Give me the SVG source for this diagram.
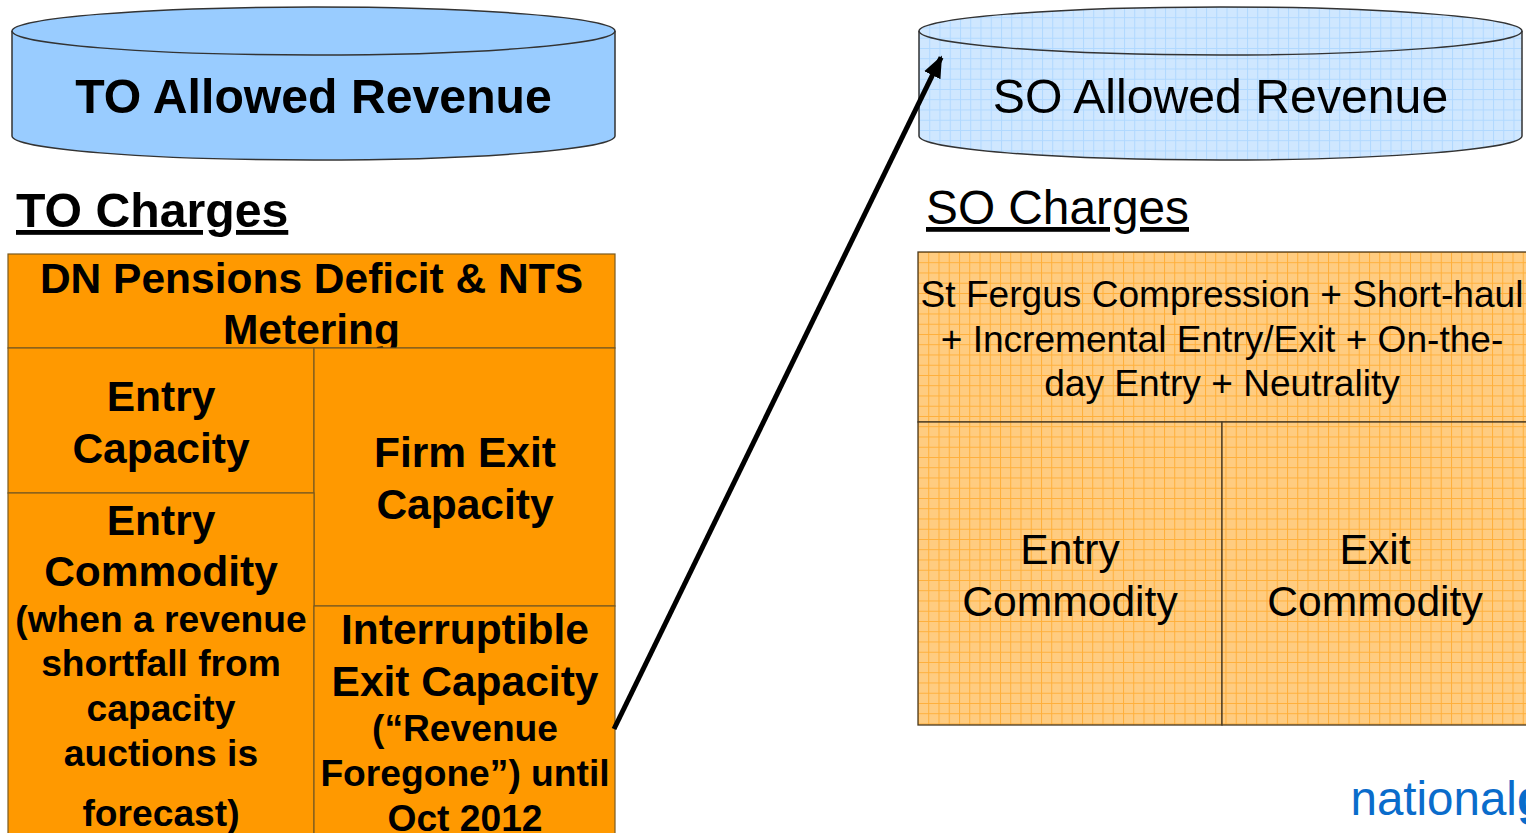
<svg xmlns="http://www.w3.org/2000/svg" width="1526" height="833" viewBox="0 0 1526 833">
<style>
text{font-family:"Liberation Sans",Arial,sans-serif;fill:#000;text-anchor:middle}
.b{font-weight:bold}
.h1{font-size:48.200px}.h3{font-size:47.800px}.m{font-size:42.500px}.s{font-size:37.200px}.r{font-size:37.100px}.c{font-size:42.600px}
.box{fill:#ff9900;stroke:#7a5a20;stroke-width:1.2}
.hbox{fill:url(#og);stroke:#4a3a20;stroke-width:1.3}
.cyl{stroke:#333;stroke-width:1.5}
.l{text-anchor:start;text-decoration:underline}
</style>
<defs>
<pattern id="og" width="10.25" height="10.25" patternUnits="userSpaceOnUse" x="918" y="252">
<rect width="10.25" height="10.25" fill="#ffcc80"/>
<path d="M0 0.5H10.25M0.5 0V10.25" stroke="#ffaf3a" stroke-width="1" fill="none"/>
</pattern>
<pattern id="bg" width="10.25" height="10.25" patternUnits="userSpaceOnUse" x="919" y="7">
<rect width="10.25" height="10.25" fill="#cfe7ff"/>
<path d="M0 0.5H10.25M0.5 0V10.25" stroke="#b0d8ff" stroke-width="1" fill="none"/>
</pattern>
<marker id="ah" markerUnits="userSpaceOnUse" markerWidth="24" markerHeight="24" refX="20" refY="10" orient="auto">
<path d="M0 1L22 10L0 19Z" fill="#000"/>
</marker>
</defs>
<g id="to-revenue">
<path class="cyl" fill="#99ccff" d="M12 31C12 18 147 7 313.500 7S615 18 615 31V136C615 149 480 160 313.500 160S12 149 12 136Z"/>
<path class="cyl" fill="none" d="M12 31C12 44 147 55 313.500 55S615 44 615 31"/>
<text class="b h1" x="313.500" y="113">TO Allowed Revenue</text>
</g>
<g id="so-revenue">
<path class="cyl" fill="url(#bg)" d="M919 31C919 18 1054 7 1220.500 7S1522 18 1522 31V136C1522 149 1387 160 1220.500 160S919 149 919 136Z"/>
<path class="cyl" fill="none" d="M919 31C919 44 1054 55 1220.500 55S1522 44 1522 31"/>
<text class="h1" x="1220.500" y="113">SO Allowed Revenue</text>
</g>
<g id="to-title"><text class="b h1 l" x="16" y="227">TO Charges</text></g>
<g id="so-title"><text class="h3 l" x="926" y="224">SO Charges</text></g>
<g id="dn-pensions">
<rect class="box" x="8" y="254" width="607" height="94"/>
<text class="b m" x="311.500" y="293">DN Pensions Deficit &amp; NTS</text>
<text class="b m" x="311.500" y="344">Metering</text>
</g>
<g id="entry-capacity">
<rect class="box" x="8" y="348" width="306" height="145"/>
<text class="b m" x="161" y="411">Entry</text>
<text class="b m" x="161" y="463">Capacity</text>
</g>
<g id="firm-exit">
<rect class="box" x="314" y="348" width="301" height="258"/>
<text class="b m" x="465" y="467">Firm Exit</text>
<text class="b m" x="465" y="519">Capacity</text>
</g>
<g id="entry-commodity">
<rect class="box" x="8" y="493" width="306" height="345"/>
<text class="b m" x="161" y="535">Entry</text>
<text class="b m" x="161" y="586">Commodity</text>
<text class="b s" x="161" y="632">(when a revenue</text>
<text class="b s" x="161" y="676">shortfall from</text>
<text class="b s" x="161" y="721">capacity</text>
<text class="b s" x="161" y="766">auctions is</text>
<text class="b s" x="161" y="826">forecast)</text>
</g>
<g id="interruptible">
<rect class="box" x="314" y="606" width="301" height="232"/>
<text class="b m" x="465" y="644">Interruptible</text>
<text class="b m" x="465" y="696">Exit Capacity</text>
<text class="b s" x="465" y="741">(“Revenue</text>
<text class="b s" x="465" y="786">Foregone”) until</text>
<text class="b s" x="465" y="831">Oct 2012</text>
</g>
<g id="so-misc">
<rect class="hbox" x="918" y="252" width="612" height="170"/>
<text class="r" x="1222" y="307">St Fergus Compression + Short-haul</text>
<text class="r" x="1222" y="352">+ Incremental Entry/Exit + On-the-</text>
<text class="r" x="1222" y="396">day Entry + Neutrality</text>
</g>
<g id="so-entry">
<rect class="hbox" x="918" y="422" width="304" height="303"/>
<text class="c" x="1070" y="564">Entry</text>
<text class="c" x="1070" y="616">Commodity</text>
</g>
<g id="so-exit">
<rect class="hbox" x="1222" y="422" width="308" height="303"/>
<text class="c" x="1375" y="564">Exit</text>
<text class="c" x="1375" y="616">Commodity</text>
</g>
<g id="connectors">
<path d="M614 729L941.100 57.300" stroke="#000" stroke-width="5" fill="none" marker-end="url(#ah)"/>
</g>
<g id="logo"><text x="1350.500" y="815" style="text-anchor:start;font-size:47.500px;fill:#0a6ccb">national<tspan font-weight="bold">g</tspan></text></g>
</svg>
